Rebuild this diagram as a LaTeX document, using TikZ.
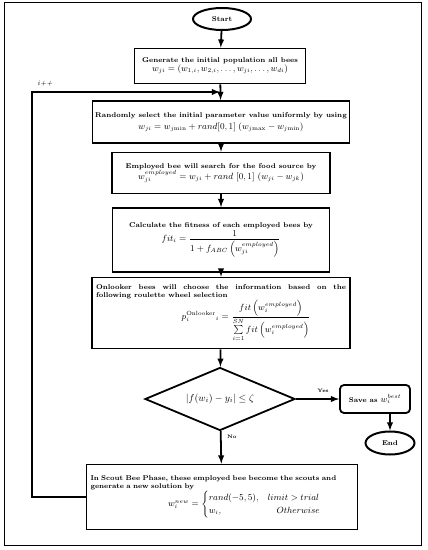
\documentclass[tikz,border=0pt]{standalone}
\usepackage{amsmath}
\usetikzlibrary{shapes.geometric}

\begin{document}
\begin{tikzpicture}[>=latex,
				x=1bp, y=-1bp,
				block/.style = {draw, line width=1.8pt, align=center, font=\scriptsize\bfseries, inner sep=2pt},
				terminal/.style = {draw, ellipse, line width=2pt, font=\scriptsize\bfseries, inner sep=0pt},
				decision/.style = {draw, diamond, line width=1.8pt, aspect=2.4, inner sep=0pt},
				flow/.style = {line width=1.8pt, ->},
				lbl/.style = {font=\tiny\bfseries, inner sep=1pt}
			]
			\useasboundingbox (0,0) rectangle (427,550);
			\draw[line width=1pt] (4,3) rectangle (421,545);
			% main column
			\node[terminal, minimum width=58bp, minimum height=22bp] (start) at (222,19) {Start};
			\node[block, minimum width=171bp, minimum height=35bp] (init) at (220,66)
				{Generate the initial population all bees\\
				\small$w_{ji}=(w_{1,i},w_{2,i},\ldots,w_{ji},\ldots,w_{di})$};
			\node[block, minimum width=257bp, minimum height=42bp] (param) at (221,122)
				{Randomly select the initial parameter value uniformly by using\\[3pt]
				\small$w_{ji}=w_{j\mathrm{min}}+rand[0,1]\;(w_{j\mathrm{max}}-w_{j\mathrm{min}})$};
			\node[block, minimum width=218bp, minimum height=41bp] (employed) at (221,173)
				{Employed bee will search for the food source by\\
				\small$w_{ji}^{employed}=w_{ji}+rand\,\left[0,1\right]\,\left(w_{ji}-w_{jk}\right)$};
			\node[block, minimum width=217bp, minimum height=64bp] (fitness) at (221,240)
				{Calculate the fitness of each employed bees by\\
				\small$fit_i=\dfrac{1}{1+f_{ABC}\left(w_{ji}^{employed}\right)}$};
			\node[block, text width=250bp, align=justify, inner xsep=4pt, minimum height=71bp] (onlooker) at (221,313)
				{Onlooker bees will choose the information based on the\linebreak following roulette wheel selection\par
				\centering\hspace*{50bp}\small$p_i^{\mathrm{Onlooker}}{}_i=\dfrac{fit\left(w_i^{employed}\right)}{\sum\limits_{i=1}^{SN}fit\left(w_i^{employed}\right)}$\par};
			\node[decision, minimum width=150bp, minimum height=63bp] (check) at (220,399)
				{\normalsize$\left|f(w_i)-y_i\right|\leq\zeta$};
			\node[block, rounded corners=4pt, minimum width=70bp, minimum height=28bp] (save) at (375,399)
				{Save as \small$w_i^{best}$};
			\node[terminal, minimum width=49bp, minimum height=23bp] (end) at (390,443) {End};
			\node[block, text width=263bp, align=left, inner xsep=4pt, minimum height=65bp] (scout) at (222,497)
				{In Scout Bee Phase, these employed bee become the scouts and\\
				generate a new solution by\par
				\centering\hspace*{45bp}\small$w_i^{new}=\begin{cases}rand(-5,5), & limit>trial\\ w_i, & \quad Otherwise\end{cases}$\par};
			% connectors
			\coordinate (loopin) at (init.south |- 0,92);
			\draw[flow] (start) -- (init);
			\draw[flow] (init) -- (param);
			\draw[flow] (param) -- (employed);
			\draw[flow] (employed) -- (fitness);
			\draw[flow] (fitness) -- (onlooker);
			\draw[flow] (onlooker) -- (check);
			\draw[flow] (check) -- (save);
			\draw[flow] (save.south -| end.north) -- (end);
			\draw[flow] (check) -- (scout);
			\draw[flow] (scout.west) -- ++(-54,0) |- (loopin);
			\node[lbl] (yes) at (323,391) {Yes};
			\node[lbl] (no) at (232,437) {No};
			\node[font=\scriptsize\itshape] (inc) at (45,84) {i++};
		\end{tikzpicture}
\end{document}
